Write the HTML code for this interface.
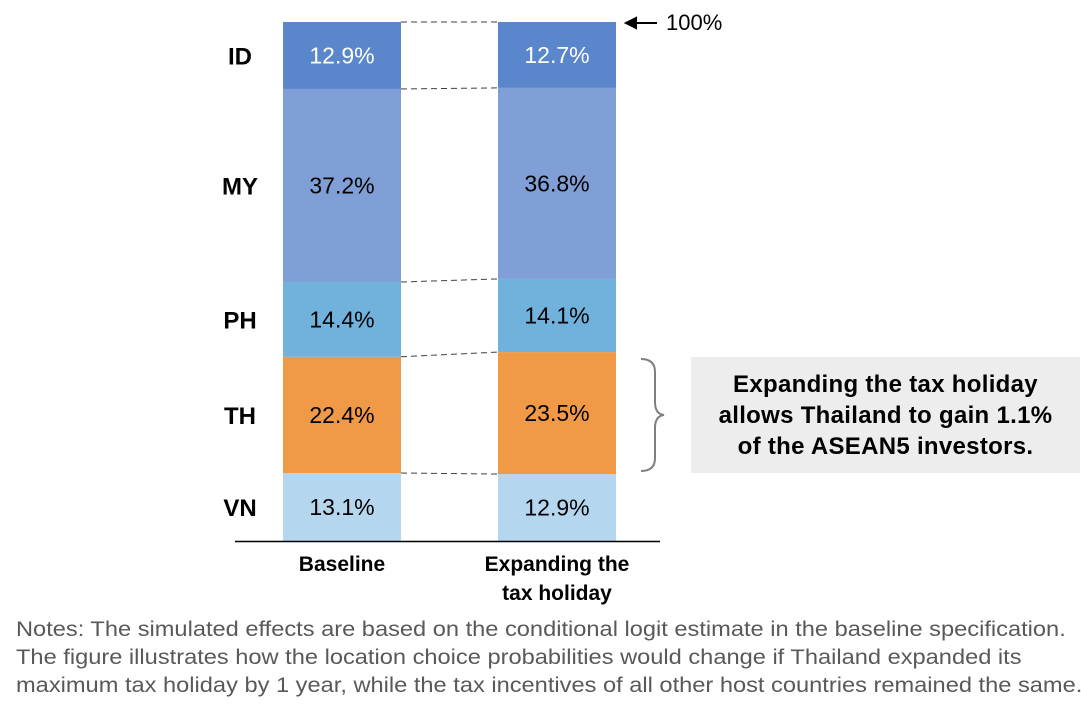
<!DOCTYPE html>
<html><head><meta charset="utf-8">
<style>
body{margin:0;background:#fff;width:1081px;height:716px;overflow:hidden;font-family:"Liberation Sans",sans-serif;}
#notes{position:absolute;left:16px;top:616px;font-size:21px;color:#595959;line-height:28px;white-space:nowrap;transform:scaleX(1.125);transform-origin:left top}
#callout{position:absolute;left:691px;top:357px;width:389px;height:116px;background:#EDEDED;display:flex;align-items:center;justify-content:center;text-align:center;font-weight:bold;font-size:24px;line-height:31px;color:#000;letter-spacing:0.3px;white-space:nowrap}
</style></head><body>
<svg id="chart" width="1081" height="716" style="position:absolute;left:0;top:0"></svg>
<div id="callout"><div>Expanding the tax holiday<br>allows Thailand to gain 1.1%<br>of the ASEAN5 investors.</div></div>
<div id="notes">Notes: The simulated effects are based on the conditional logit estimate in the baseline specification.<br>The figure illustrates how the location choice probabilities would change if Thailand expanded its<br>maximum tax holiday by 1 year, while the tax incentives of all other host countries remained the same.</div>
<script>
const countries=["VN","TH","PH","MY","ID"];
const baseline=[13.1,22.4,14.4,37.2,12.9];
const expanding=[12.9,23.5,14.1,36.8,12.7];
const colors=["#B4D7EF","#F09A47","#70B2DC","#7F9FD6","#5A87CB"];
const textColors=["#000","#000","#000","#000","#fff"];
const NS="http://www.w3.org/2000/svg";
const svg=document.getElementById('chart');
const y0=541,y1=22;
const y=v=>y0-(v/100)*(y0-y1);
function mk(t,a){const e=document.createElementNS(NS,t);for(const k in a)e.setAttribute(k,a[k]);svg.appendChild(e);return e;}
const bars=[{x:283,vals:baseline,name:"baseline",label:["Baseline"]},{x:498,vals:expanding,name:"expanding",label:["Expanding  the","tax holiday"]}];
const bw=118;
const cums=bars.map(b=>{let c=0;return b.vals.map(v=>{const s=c;c+=v;return [s,c];});});
bars.forEach((b,bi)=>{
  cums[bi].forEach(([s,e],i)=>{
    const r=mk('rect',{x:b.x,y:y(e),width:bw,height:y(s)-y(e),fill:colors[i]});
    
    
    const t=mk('text',{x:b.x+bw/2,y:(y(s)+y(e))/2+8,'text-anchor':'middle','font-size':23,fill:textColors[i]});
    t.textContent=b.vals[i].toFixed(1)+'%';
    
    
  });
  b.label.forEach((l,li)=>{
    const t=mk('text',{x:b.x+bw/2,y:571+li*29,'text-anchor':'middle','font-size':21,'font-weight':'bold',fill:'#000'});
    t.setAttribute('xml:space','preserve');
    t.textContent=l;
    
    
  });
});
for(let i=1;i<=countries.length;i++){
  const ya=y(cums[0][i-1][1]),yb=y(cums[1][i-1][1]);
  const l=mk('line',{x1:283+bw,y1:ya,x2:498,y2:yb,stroke:'#404040','stroke-width':1,'stroke-dasharray':'6,4'});
  
  
}
cums[0].forEach(([s,e],i)=>{
  const t=mk('text',{x:240,y:(y(s)+y(e))/2+9,'text-anchor':'middle','font-size':24,'font-weight':'bold',fill:'#000'});
  t.textContent=countries[i];
  
  
});
const ax=mk('line',{x1:235,y1:y0+0.5,x2:660,y2:y0+0.5,stroke:'#000','stroke-width':1.5});


const ar=mk('path',{d:'M626 23 L657 23 M626 23 L636 18 L636 28 Z',stroke:'#000','stroke-width':2,fill:'#000'});


const at=mk('text',{x:666,y:30,'font-size':22,fill:'#000'});
at.textContent='100%';


const br=mk('path',{d:'M641 359 Q655 359 655 372 L655 402 Q655 414 664 415 Q655 416 655 428 L655 458 Q655 471 641 471',stroke:'#7f7f7f','stroke-width':2,fill:'none'});


</script>
</body></html>
